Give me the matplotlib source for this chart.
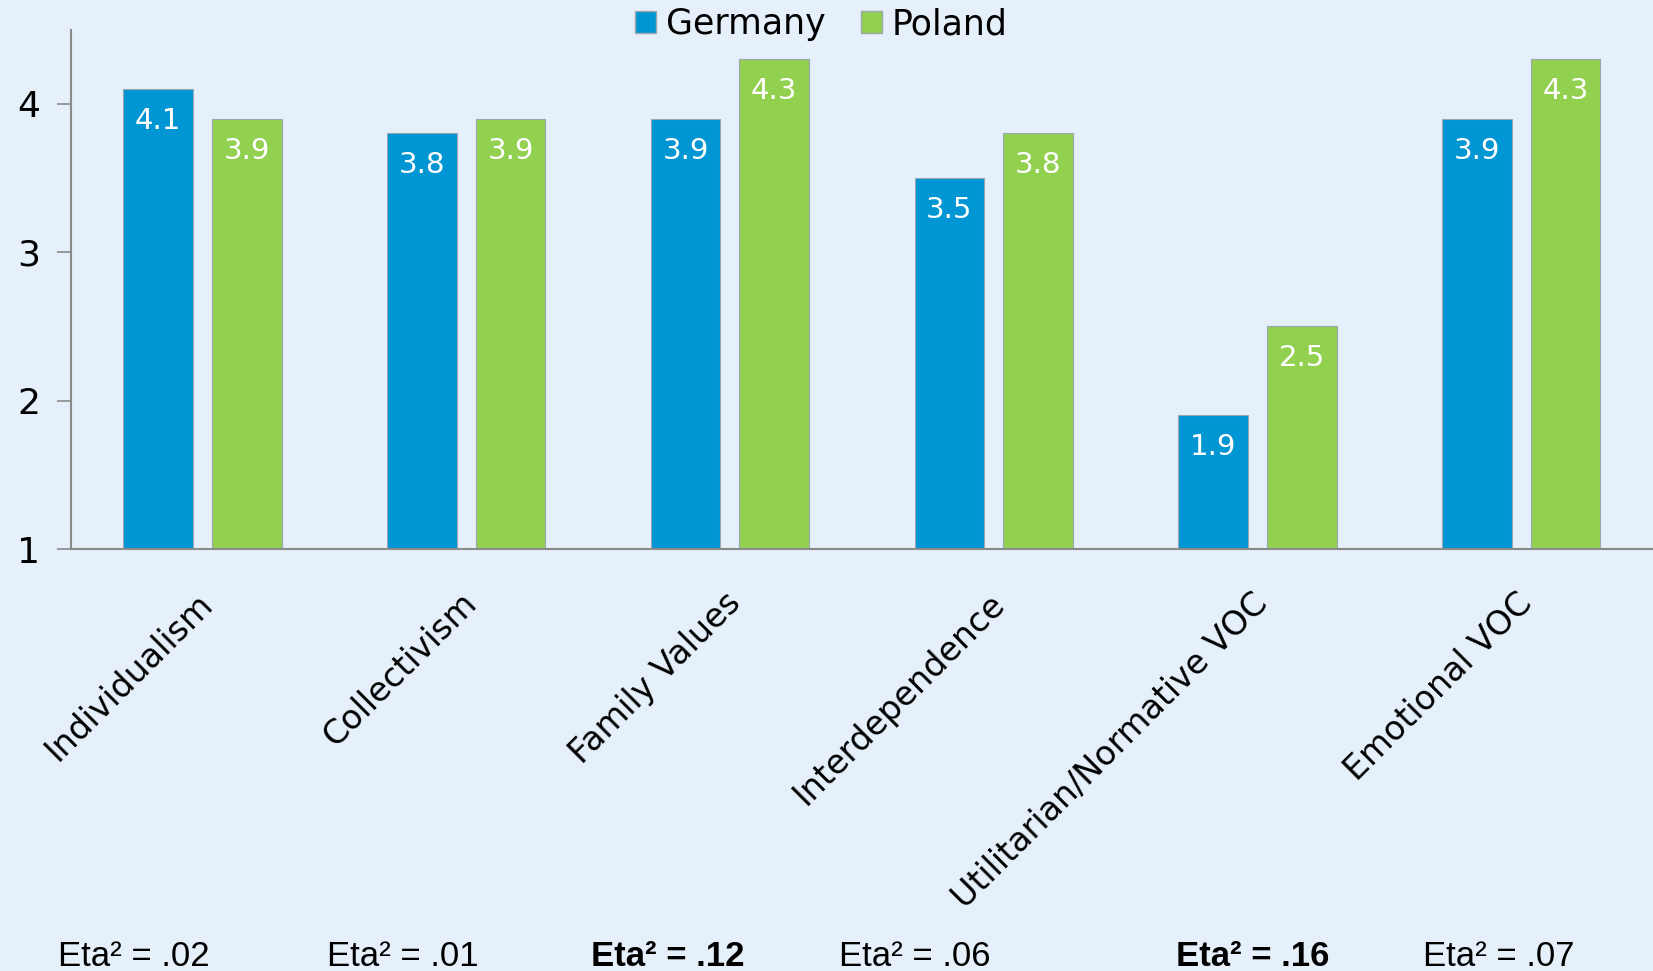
import numpy as np
import matplotlib
matplotlib.use("Agg")
from matplotlib import pyplot as plt
from matplotlib.patches import Patch
from matplotlib.transforms import blended_transform_factory, ScaledTranslation

# mean scores per dimension
categories = ["Individualism", "Collectivism", "Family Values", "Interdependence",
              "Utilitarian/Normative VOC", "Emotional VOC"]
germany = [4.1, 3.8, 3.9, 3.5, 1.9, 3.9]
poland = [3.9, 3.9, 4.3, 3.8, 2.5, 4.3]
eta_values = [".02", ".01", ".12", ".06", ".16", ".07"]
eta_bold = [False, False, True, False, True, False]

BG = "#E6F0FA"
BLUE = "#0096D4"
GREEN = "#92D050"
GRAY = "#8A8A8A"

plt.rcParams["font.family"] = ["DejaVu Sans"]

fig = plt.figure(figsize=(16.53, 9.71), dpi=100, facecolor=BG)
ax = fig.add_axes([0.0427, 0.4346, 0.9573, 0.535])
ax.set_facecolor(BG)

x = np.arange(len(categories))
w = 0.264
off = 0.168
b1 = ax.bar(x - off, germany, w, color=BLUE, edgecolor="#9AA6B0", linewidth=0.8)
b2 = ax.bar(x + off, poland, w, color=GREEN, edgecolor="#9AA6B0", linewidth=0.8)

for bars, vals in ((b1, germany), (b2, poland)):
    for rect, v in zip(bars, vals):
        ax.annotate(f"{v:.1f}", (rect.get_x() + rect.get_width() / 2, v),
                    xytext=(0, -23), textcoords="offset points",
                    ha="center", va="center", color="white", fontsize=21)

ax.set_xlim(-0.5, 5.5)
ax.set_ylim(1, 4.5)
ax.set_yticks([1, 2, 3, 4])
ax.tick_params(axis="y", length=10, width=1.2, color=GRAY, labelsize=26, pad=12)
ax.tick_params(axis="x", length=0, labelsize=24, pad=27)
ax.set_xticks(x)
ax.set_xticklabels(categories, rotation=45, ha="right", va="top", rotation_mode="anchor")
for side in ("top", "right"):
    ax.spines[side].set_visible(False)
for side in ("left", "bottom"):
    ax.spines[side].set_color(GRAY)
    ax.spines[side].set_linewidth(1.5)

# nudge the rotated labels so they end at the group centre
for lbl in ax.get_xticklabels():
    lbl.set_transform(lbl.get_transform() + ScaledTranslation(-0.06, 0, fig.dpi_scale_trans))

handles = [Patch(facecolor=BLUE, edgecolor="#9AA6B0"), Patch(facecolor=GREEN, edgecolor="#9AA6B0")]
fig.legend(handles, ["Germany", "Poland"], loc="center", bbox_to_anchor=(0.497, 0.975),
           ncol=2, frameon=False, fontsize=25, handlelength=0.6, handleheight=0.6,
           handletextpad=0.3, columnspacing=1.0)

# effect sizes under each group
eta_x = [-0.26, 0.76, 1.764, 2.70, 3.984, 4.916]
trans = blended_transform_factory(ax.transData, fig.transFigure)
for xe, val, bold in zip(eta_x, eta_values, eta_bold):
    ax.text(xe, 0.015, f"Eta² = {val}", transform=trans, ha="center", va="center",
            fontsize=25, fontweight="bold" if bold else "normal",
            family=["Liberation Sans", "DejaVu Sans"], clip_on=False)

fig.savefig("out.png", dpi=100, facecolor=BG)
